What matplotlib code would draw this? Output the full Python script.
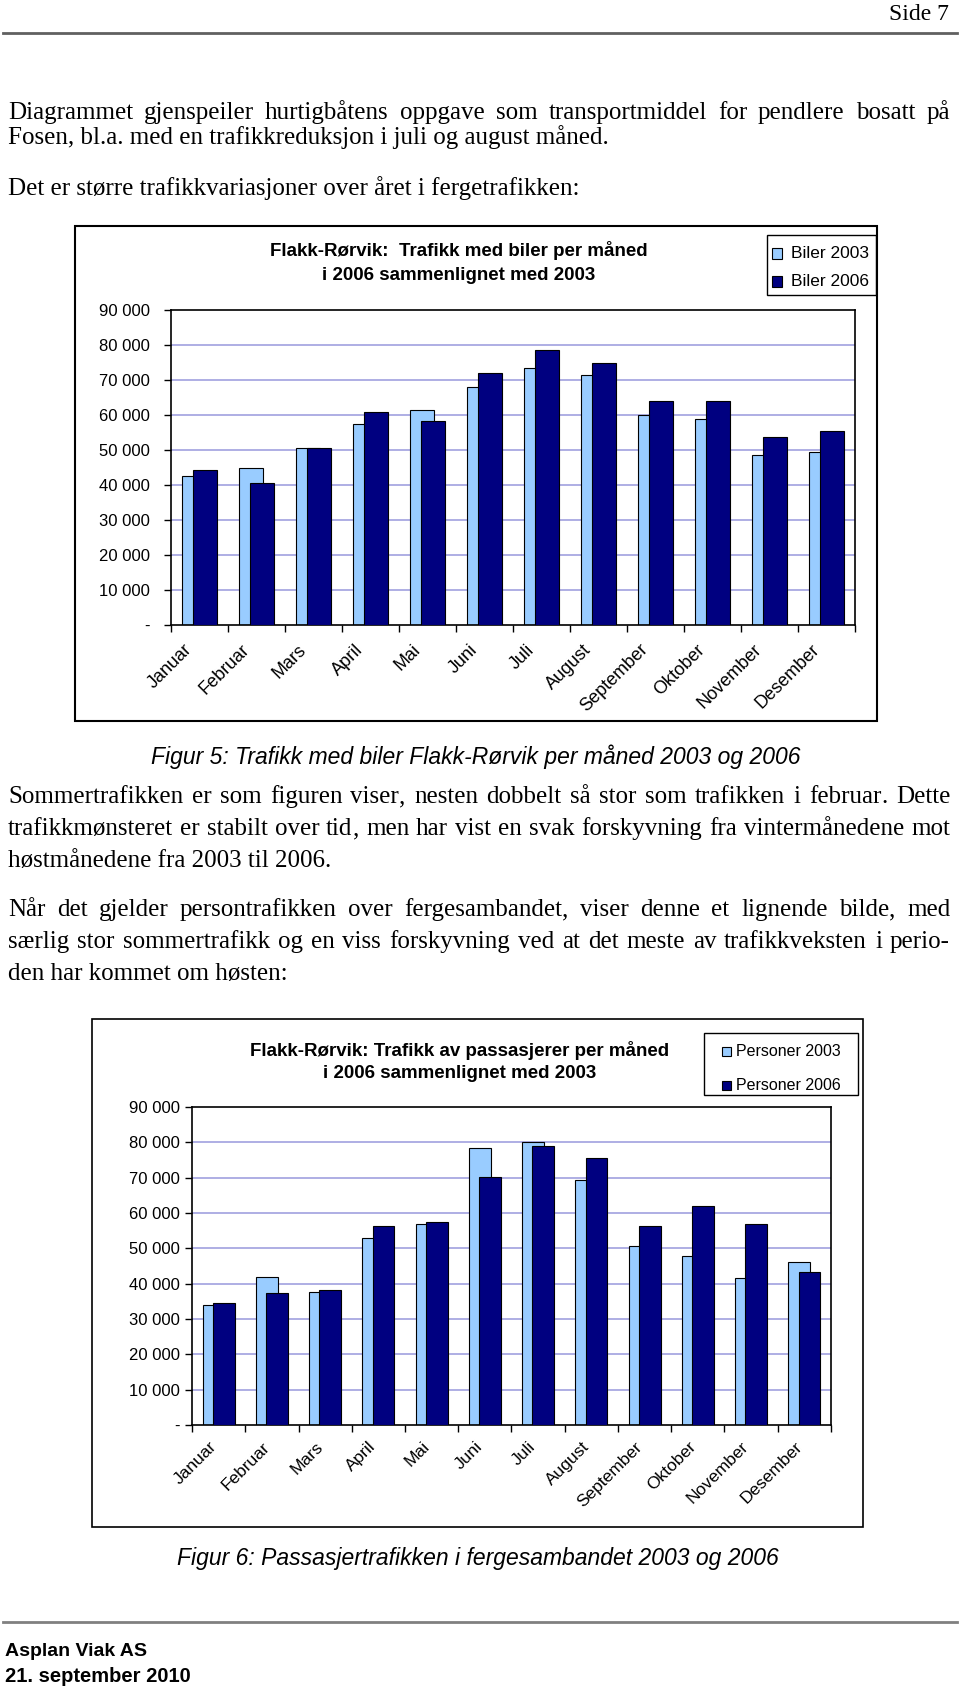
import matplotlib
matplotlib.use('Agg')
import matplotlib.pyplot as plt
import matplotlib.transforms as mtrans
import numpy as np
from matplotlib.patches import Rectangle
from matplotlib.lines import Line2D
from matplotlib.ticker import FuncFormatter

W, H = 960, 1688

months = ['Januar', 'Februar', 'Mars', 'April', 'Mai', 'Juni', 'Juli',
          'August', 'September', 'Oktober', 'November', 'Desember']

# figur 5 - biler
biler_2003 = [42500, 45000, 50500, 57500, 61500, 68000, 73500, 71300, 60000, 59000, 48700, 49500]
biler_2006 = [44300, 40700, 50500, 61000, 58200, 72000, 78500, 75000, 64000, 64000, 53800, 55300]

# figur 6 - passasjerer
pers_2003 = [34000, 41800, 37600, 52800, 56800, 78500, 80000, 69300, 50600, 47700, 41500, 46000]
pers_2006 = [34500, 37300, 38300, 56300, 57500, 70200, 79000, 75700, 56300, 61900, 56800, 43400]

yticks = list(range(0, 90001, 10000))

light = '#99ccff'
dark = '#000080'
grid = '#9999dd'
serif = 'Liberation Serif'
sans = 'Liberation Sans'

fig = plt.figure(figsize=(9.6, 16.88), dpi=100)
renderer = fig.canvas.get_renderer()


def fx(x):
    return x / W


def fy(y):
    return 1 - y / H


def hline(y, x0, x1, color='black', lw=1.0):
    fig.add_artist(Line2D([fx(x0), fx(x1)], [fy(y), fy(y)], color=color, lw=lw,
                          transform=fig.transFigure))


def box(x0, y0, x1, y1, lw=1.2):
    fig.add_artist(Rectangle((fx(x0), fy(y1)), fx(x1) - fx(x0), fy(y0) - fy(y1),
                             fill=False, ec='black', lw=lw, transform=fig.transFigure))


def measure(s, size):
    probe = fig.text(0, 0, s, family=serif, size=size, va='baseline')
    w = probe.get_window_extent(renderer).width
    probe.remove()
    return w


def body_line(text, y, justify=False, x0=8, x1=950, size=18):
    yb = fy(y + 6)
    if not justify:
        fig.text(fx(x0), yb, text, family=serif, size=size, va='baseline')
        return
    words = text.split()
    # trailing comma / full stop drawn as its own piece
    pieces = []
    for w in words:
        if len(w) > 1 and w[-1] in ',.':
            pieces.append([w[:-1], w[-1]])
        else:
            pieces.append([w])
    widths = [[measure(p, size) for p in ps] for ps in pieces]
    total = sum(sum(ws) for ws in widths)
    gap = (x1 - x0 - total) / (len(words) - 1)
    x = x0
    for ps, ws in zip(pieces, widths):
        for p, wd in zip(ps, ws):
            fig.text(fx(round(x)), yb, p, family=serif, size=size, va='baseline')
            x += wd
        x += gap


def fmt(v, p):
    return '-' if v == 0 else f'{int(v):,}'.replace(',', ' ')


def chart(rect, v03, v06, width, off, ypad, ysize, xsize, shift):
    l, t, r, b = rect
    ax = fig.add_axes([fx(l), fy(b), fx(r) - fx(l), fy(t) - fy(b)])
    x = np.arange(len(months))
    ax.bar(x - off, v03, width, color=light, edgecolor='black', lw=0.8, zorder=2)
    ax.bar(x + off, v06, width, color=dark, edgecolor='black', lw=0.8, zorder=3)
    for yy in yticks[1:-1]:
        ax.axhline(yy, color=grid, lw=1.1, zorder=1)
    ax.set_xlim(-0.5, len(months) - 0.5)
    ax.set_ylim(0, 90000)
    ax.set_yticks(yticks)
    ax.yaxis.set_major_formatter(FuncFormatter(fmt))
    ax.set_xticks(np.arange(-0.5, len(months), 1))
    ax.set_xticklabels([])
    ax.set_xticks(x, minor=True)
    ax.set_xticklabels(months, minor=True, rotation=45, ha='right',
                       rotation_mode='anchor', family=sans, size=xsize)
    ax.tick_params(axis='x', which='minor', length=0, pad=8)
    ax.tick_params(axis='both', which='major', direction='out', length=5, width=1)
    ax.tick_params(axis='y', pad=ypad, labelsize=ysize)
    for lab in ax.get_yticklabels():
        lab.set_family(sans)
    off_t = mtrans.ScaledTranslation(shift[0] / 100, shift[1] / 100, fig.dpi_scale_trans)
    for lab in ax.get_xticklabels(minor=True):
        lab.set_transform(lab.get_transform() + off_t)
    for s in ax.spines.values():
        s.set_color('black')
        s.set_linewidth(1.2)
    return ax


def legend(x0, y0, x1, y1, labels, ys, sq, tx, size):
    box(x0, y0, x1, y1, lw=1.0)
    for lab, yy, c in zip(labels, ys, [light, dark]):
        fig.add_artist(Rectangle((fx(sq[0]), fy(yy + sq[2] / 2)), fx(sq[1]) - fx(0),
                                 sq[2] / H, fc=c, ec='black', lw=0.8,
                                 transform=fig.transFigure))
        fig.text(fx(tx), fy(yy), lab, family=sans, size=size, va='center')


# side header
fig.text(fx(949), fy(14), 'Side 7', family=serif, size=17, ha='right', va='center')
hline(33, 3, 957, color='#606060', lw=2)

body_line('Diagrammet gjenspeiler hurtigbåtens oppgave som transportmiddel for pendlere bosatt på', 113, True)
body_line('Fosen, bl.a. med en trafikkreduksjon i juli og august måned.', 138)
body_line('Det er større trafikkvariasjoner over året i fergetrafikken:', 189)

# figur 5
box(75, 226, 877, 721, lw=1.5)
chart((171, 310, 855, 625), biler_2003, biler_2006, 0.42, 0.1, 10, 12, 13, (-16, -5))
fig.text(fx(459), fy(251), 'Flakk-Rørvik:  Trafikk med biler per måned',
         family=sans, size=13.5, weight='bold', ha='center', va='center')
fig.text(fx(459), fy(275), 'i 2006 sammenlignet med 2003',
         family=sans, size=13.5, weight='bold', ha='center', va='center')
legend(767, 235, 876, 295, ['Biler 2003', 'Biler 2006'], [253, 281], (772, 10, 11), 791, 12.5)
fig.text(fx(476), fy(757), 'Figur 5: Trafikk med biler Flakk-Rørvik per måned 2003 og 2006',
         family=sans, size=16.5, style='italic', ha='center', va='center')

body_line('Sommertrafikken er som figuren viser, nesten dobbelt så stor som trafikken i februar. Dette', 797, True)
body_line('trafikkmønsteret er stabilt over tid, men har vist en svak forskyvning fra vintermånedene mot', 829, True)
body_line('høstmånedene fra 2003 til 2006.', 861)
body_line('Når det gjelder persontrafikken over fergesambandet, viser denne et lignende bilde, med', 910, True)
body_line('særlig stor sommertrafikk og en viss forskyvning ved at det meste av trafikkveksten i perio-', 942, True)
body_line('den har kommet om høsten:', 974)

# figur 6
box(92, 1019, 863, 1527, lw=1.2)
chart((192, 1107, 831, 1425), pers_2003, pers_2006, 0.41, 0.095, 3.5, 12, 12.5, (-10, -3))
fig.text(fx(460), fy(1051), 'Flakk-Rørvik: Trafikk av passasjerer per måned',
         family=sans, size=13.5, weight='bold', ha='center', va='center')
fig.text(fx(460), fy(1074), 'i 2006 sammenlignet med 2003',
         family=sans, size=13.5, weight='bold', ha='center', va='center')
legend(704, 1033, 858, 1095, ['Personer 2003', 'Personer 2006'], [1051, 1085], (722, 9, 9), 736, 11.5)
fig.text(fx(478), fy(1558), 'Figur 6: Passasjertrafikken i fergesambandet 2003 og 2006',
         family=sans, size=16.5, style='italic', ha='center', va='center')

# footer
hline(1622, 3, 957, color='#808080', lw=2)
fig.text(fx(5), fy(1651), 'Asplan Viak AS', family=sans, size=14, weight='bold', va='center')
fig.text(fx(5), fy(1677), '21. september 2010', family=sans, size=14.5, weight='bold', va='center')

fig.savefig('out.png', dpi=100, facecolor='white')
